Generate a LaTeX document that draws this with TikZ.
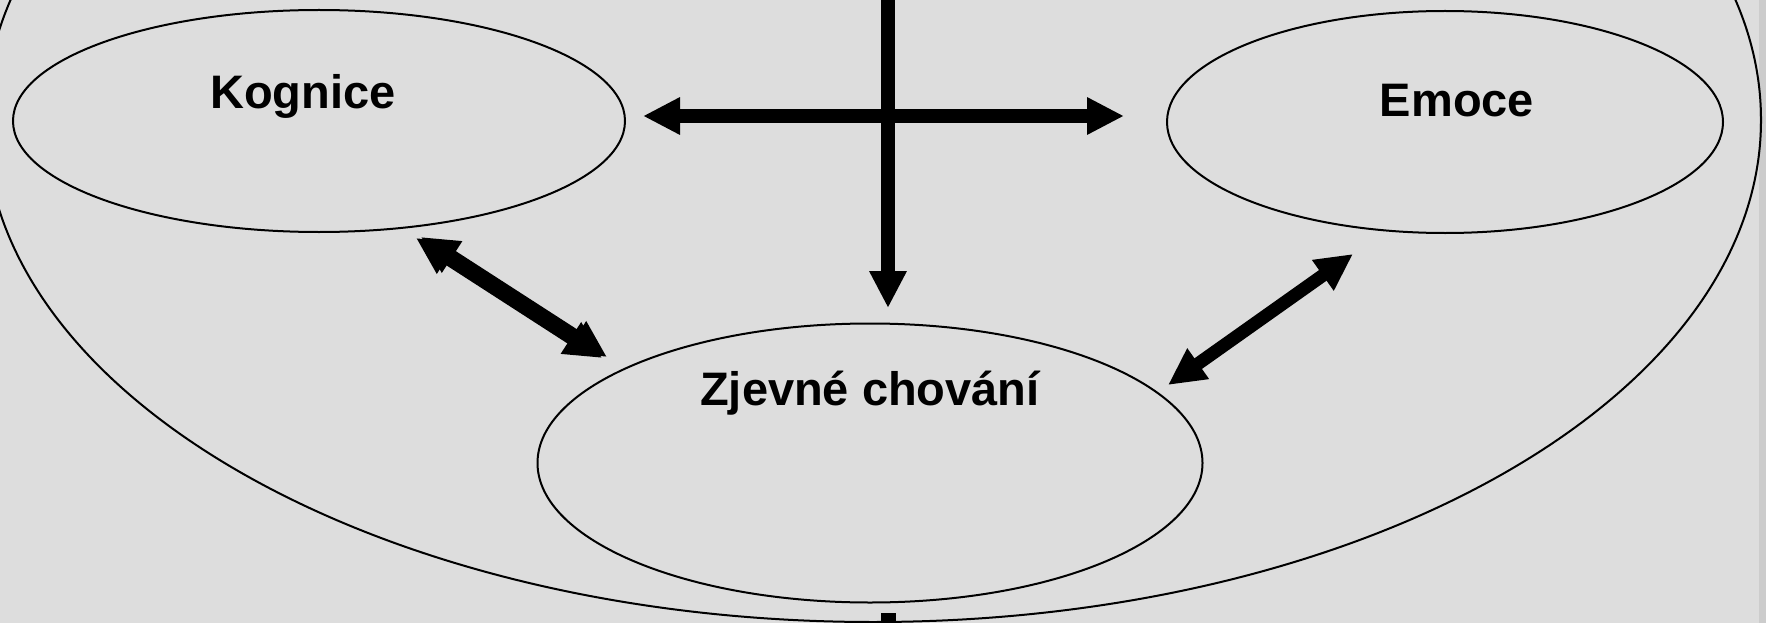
\documentclass[tikz,border=0pt]{standalone}
\usepackage{fontspec}
\setmainfont{Liberation Sans}
\usetikzlibrary{shapes.geometric,arrows.meta}
\definecolor{bg}{HTML}{DDDDDD}
\definecolor{edgestrip}{HTML}{CCCCCC}
\definecolor{shade}{HTML}{808080}
\begin{document}
\begin{tikzpicture}[x=1pt,y=-1pt,
  blob/.style={draw=black,line width=2pt,ellipse,inner sep=0pt,outer sep=0pt},
  lbl/.style={font=\fontsize{47}{56}\selectfont\bfseries,anchor=base,inner sep=0pt},
  oneway/.style={line width=14pt,-{Triangle[length=37pt,width=35pt]}},
  twoway/.style={line width=13pt,{Triangle[length=37pt,width=35pt]}-{Triangle[length=37pt,width=35pt]}}]
  % page background
  \fill[bg] (0,0) rectangle (1766,623);
  \fill[edgestrip] (1759,0) rectangle (1766,623);
  \useasboundingbox (0,0) rectangle (1766,623);
  \clip (0,0) rectangle (1766,623);

  % enclosing ellipse and the three areas
  \node[blob, minimum width=1776pt, minimum height=1004pt] (whole) at (873,120) {};
  \node[blob, minimum width=612pt, minimum height=222pt] (kog) at (319,121) {};
  \node[blob, minimum width=556pt, minimum height=222pt] (emo) at (1445,122) {};
  \node[blob, minimum width=665pt, minimum height=279pt] (zje) at (870,463) {};

  % labels
  \node[lbl] (tkog) at (303,109) {Kognice};
  \node[lbl] (temo) at (1457,117) {Emoce};
  \node[lbl] (tzje) at (870,405) {Zjevné chování};

  % connector end points
  \coordinate (vtop) at (888,-10);
  \coordinate (vtip) at (888,308);
  \coordinate (hl) at (643,116);
  \coordinate (hr) at (1124,116);
  \coordinate (dla) at (416,238);
  \coordinate (dlb) at (602,358);
  \coordinate (dra) at (1353,254);
  \coordinate (drb) at (1168,385);
  \coordinate (foot) at (888.5,613);
  \coordinate (footend) at (888.5,630);

  % horizontal double arrow and vertical arrow
  \draw[line width=14pt,{Triangle[length=37pt,width=35pt]}-{Triangle[length=37pt,width=35pt]}] (hl) -- (hr);
  \draw[oneway] (vtop) -- (vtip);

  % diagonal arrows (left one with a grey shadow)
  \draw[twoway, line width=14pt, shade] ([shift={(5,-1)}]dla) -- ([shift={(5,-1)}]dlb);
  \draw[twoway] (dla) -- (dlb);
  \draw[twoway] (dra) -- (drb);

  % stub below the enclosing ellipse
  \draw[line width=15pt] (foot) -- (footend);
\end{tikzpicture}
\end{document}
